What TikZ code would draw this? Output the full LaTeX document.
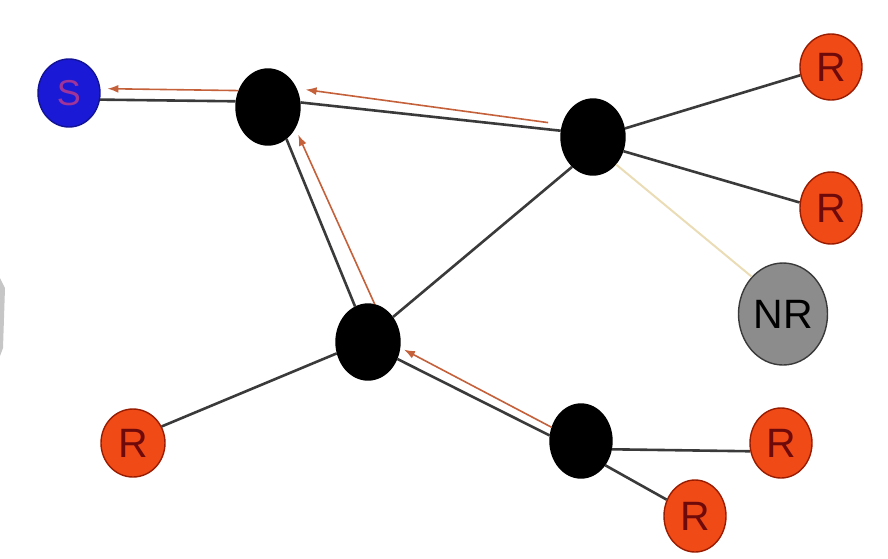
\documentclass[tikz,border=0pt]{standalone}
\usepackage{fontspec}
\setmainfont{Liberation Sans}
\usetikzlibrary{arrows.meta, shapes.geometric}
\definecolor{srcbleu}{HTML}{1A1AD6}
\definecolor{srctexte}{HTML}{A03498}
\definecolor{recep}{HTML}{F04A16}
\definecolor{recepbord}{HTML}{9A1C00}
\definecolor{receptexte}{HTML}{6E0A0A}
\definecolor{nonrecep}{HTML}{8C8C8C}
\definecolor{lienc}{HTML}{3A3A3A}
\definecolor{retourc}{HTML}{C4603A}
\definecolor{pale}{HTML}{EADCB4}

\begin{document}
\begin{tikzpicture}[
  x=1pt, y=-1pt,
  font=\fontsize{41}{41}\selectfont,
  rond/.style={ellipse, inner sep=0pt, line width=1.4pt},
  source/.style={rond, draw=srcbleu!70!black, fill=srcbleu, text=srctexte,
                 minimum width=62pt, minimum height=68pt, font=\fontsize{36}{36}\selectfont},
  routeur/.style={rond, draw=black, fill=black, minimum width=64pt, minimum height=76pt},
  membre/.style={rond, draw=recepbord, fill=recep, text=receptexte,
                 minimum width=62pt, minimum height=70pt},
  horsgroupe/.style={rond, draw=lienc, fill=nonrecep, text=black,
                     minimum width=89pt, minimum height=102pt},
  lien/.style={lienc, line width=2.6pt},
  faible/.style={pale, line width=2pt},
  retour/.style={-{Latex[length=11pt,width=8pt]}, retourc, line width=1.6pt},
]
\useasboundingbox (0,0) rectangle (888,558);
% ---- la source, les routeurs, les recepteurs
\node[source] (s) at (69,93) {S};
\node[routeur] (b1) at (268,107) {};
\node[routeur] (b2) at (593,137) {};
\node[routeur] (b3) at (368,342) {};
\node[routeur, minimum width=62pt, minimum height=74pt] (b4) at (581,441) {};
\node[membre, minimum height=66pt] (r1) at (831,67) {R};
\node[membre, minimum height=72pt] (r2) at (831,208) {R};
\node[horsgroupe] (nr) at (783,314) {NR};
\node[membre, minimum width=64pt, minimum height=68pt] (r3) at (133,443) {R};
\node[membre] (r4) at (781,443) {R};
\node[membre, minimum height=72pt] (r5) at (695,516) {R};
% ---- liens de l'arbre
\draw[lien] (s.-12) -- (b1.170);
\draw[lien] (b1.8) -- (b2.169);
\draw[lien] (b1.-60) -- (b3.110);
\draw[lien] (b2.235) -- (b3.45);
\draw[lien] (b3.-30) -- (b4.170);
\draw[lien] (b2.15) -- (r1.195);
\draw[lien] (b2.-25) -- (r2.170);
\draw[faible] (b2.-50) -- (nr.130);
\draw[lien] (b3.200) -- (r3.30);
\draw[lien] (b4.-15) -- (r4.195);
\draw[lien] (b4.-45) -- (r5.150);
% ---- remontee vers la source
\draw[retour, shorten >=7pt] (b1.151) -- (s.8);
\draw[retour, shorten <=14pt, shorten >=9pt] (b2.158) -- (b1.33);
\draw[retour, shorten >=7pt] (b3.80) -- (b1.-38);
\draw[retour, shorten >=4pt] (b4.155) -- (b3.-10);
% ---- bord gauche
\fill[gray!45] (0,278) -- (5,288) -- (3,348) -- (0,356) -- cycle;
\end{tikzpicture}
\end{document}
